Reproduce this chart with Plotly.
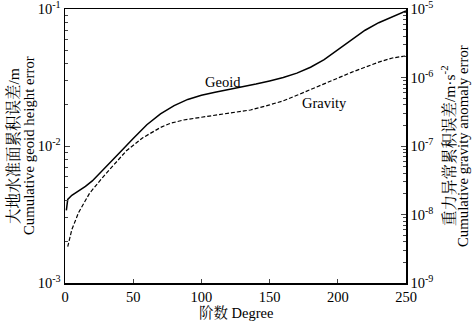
import plotly.graph_objects as go

# Geoid cumulative error (m), left axis (log10 values)
geoid_deg = [1, 2, 5, 10, 15, 20, 25, 30, 40, 50, 60, 70, 80, 90, 100, 110, 120, 130, 140, 150,
             160, 170, 180, 190, 200, 210, 220, 230, 240, 250]
geoid_log = [-2.47, -2.39, -2.36, -2.33, -2.295, -2.255, -2.205, -2.15, -2.05, -1.945, -1.845, -1.765,
             -1.705, -1.66, -1.63, -1.607, -1.588, -1.57, -1.548, -1.525, -1.50, -1.468, -1.425,
             -1.37, -1.30, -1.225, -1.155, -1.10, -1.055, -1.015]

# Gravity anomaly cumulative error (m/s^2), right axis
grav_deg = [2, 5, 10, 18, 28, 35, 45, 57, 70, 77, 87, 100, 111, 125, 136, 150, 160, 170, 180,
            190, 200, 210, 220, 230, 240, 250]
grav_log = [-8.47, -8.22, -7.97, -7.69, -7.45, -7.29, -7.07, -6.88, -6.73, -6.67, -6.62, -6.58,
            -6.547, -6.51, -6.474, -6.40, -6.34, -6.26, -6.175, -6.085, -6.0, -5.925, -5.85,
            -5.775, -5.715, -5.685]

x_ticks = [0, 50, 100, 150, 200, 250]
left_exps = [-3, -2, -1]
right_exps = [-9, -8, -7, -6, -5]

geoid_val = [10 ** v for v in geoid_log]
grav_val = [10 ** v for v in grav_log]

FONT = "Liberation Serif, Times New Roman, Noto Serif CJK SC, Noto Sans CJK SC, serif"

fig = go.Figure()
fig.add_trace(go.Scatter(x=geoid_deg, y=geoid_val, mode="lines", line=dict(color="black", width=1.5),
                         yaxis="y", showlegend=False, hoverinfo="skip"))
fig.add_trace(go.Scatter(x=grav_deg, y=grav_val, mode="lines",
                         line=dict(color="black", width=1.2, dash="4px,2px"),
                         yaxis="y2", showlegend=False, hoverinfo="skip"))

def minor_vals(exps):
    out = []
    for e in exps[:-1]:
        for m in range(2, 10):
            out.append(m * 10 ** e)
    return out

def title_ann(x, xshift, text, yshift=0, angle=-90, y=0.5, size=14):
    return dict(x=x, y=y, xref="paper", yref="paper", xshift=xshift, yshift=yshift,
                text=text, textangle=angle, showarrow=False, xanchor="center",
                yanchor="middle", font=dict(size=size))

fig.update_layout(
    width=473, height=326,
    margin=dict(l=65, r=67, t=9, b=43, autoexpand=False),
    paper_bgcolor="white", plot_bgcolor="white",
    font=dict(family=FONT, size=14, color="black"),
    hovermode=False,
    xaxis=dict(range=[0, 250], tickvals=x_ticks, ticks="inside", ticklen=4, tickwidth=1,
               showline=True, linecolor="black", linewidth=1.5, mirror=True, showgrid=False,
               zeroline=False, tickfont=dict(size=14.5), automargin=False,
               ticklabeloverflow="allow"),
    yaxis=dict(type="log", range=[-3, -1], tickvals=[10 ** e for e in left_exps],
               ticktext=[f"10<sup>{e}</sup>" for e in left_exps],
               ticks="inside", ticklen=5, tickwidth=1, showline=True, linecolor="black",
               linewidth=1.5, showgrid=False, zeroline=False, automargin=False,
               ticklabeloverflow="allow",
               minor=dict(tickvals=minor_vals(left_exps), ticks="inside", ticklen=3, showgrid=False),
               tickfont=dict(size=14.5)),
    yaxis2=dict(type="log", range=[-9, -5], overlaying="y", side="right",
                tickvals=[10 ** e for e in right_exps],
                ticktext=[f"10<sup>{e}</sup>" for e in right_exps],
                ticks="inside", ticklen=5, tickwidth=1, showline=True, linecolor="black",
                linewidth=1.5, showgrid=False, zeroline=False, automargin=False,
                ticklabeloverflow="allow",
                minor=dict(tickvals=minor_vals(right_exps), ticks="inside", ticklen=3, showgrid=False),
                tickfont=dict(size=14.5)),
    annotations=[
        dict(x=116, y=-1.533, xref="x", yref="y", text="Geoid", showarrow=False,
             xanchor="center", yanchor="middle", font=dict(size=14.5)),
        dict(x=190, y=-1.686, xref="x", yref="y", text="Gravity", showarrow=False,
             xanchor="center", yanchor="middle", font=dict(size=14.5)),
        title_ann(0, -52, "大地水准面累积误差/m", size=15.5),
        title_ann(0, -36, "Cumulative geoid height error", size=14.8),
        title_ann(1, 42, "重力异常累积误差/m·s<sup>-2</sup>", size=15.5),
        title_ann(1, 57, "Cumulative gravity anomaly error", size=14.8),
        title_ann(0.5, 0, "阶数 Degree", yshift=-30, angle=0, y=0, size=14.5),
    ],
)

fig.write_html("out.html", config={"displayModeBar": False, "staticPlot": True},
               post_script="document.body.style.margin='0';document.body.style.overflow='hidden';")
